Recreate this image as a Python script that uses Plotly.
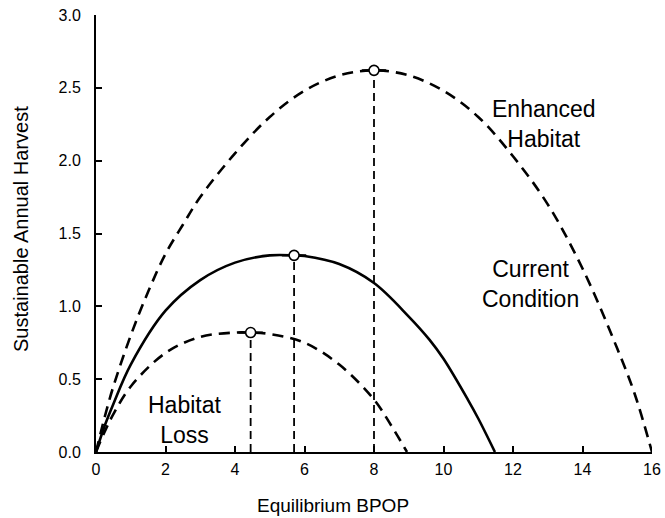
import plotly.graph_objects as go

# Enhanced Habitat curve
enh_x = [0, 0.25, 0.5, 1, 1.5, 2, 2.5, 3, 4, 5, 6, 7, 8, 9, 10, 11, 12, 13, 14, 15, 15.5, 16]
enh_y = [0, 0.24, 0.45, 0.80, 1.10, 1.36, 1.56, 1.75, 2.05, 2.30, 2.48, 2.585, 2.62, 2.585, 2.48, 2.30, 2.03, 1.70, 1.26, 0.71, 0.40, 0]
# Current Condition curve
cur_x = [0, 0.25, 0.5, 1, 2, 3, 4, 5, 5.7, 6, 7, 8, 9, 9.6, 10, 10.7, 11, 11.48]
cur_y = [0, 0.18, 0.33, 0.6, 0.97, 1.18, 1.30, 1.35, 1.35, 1.345, 1.29, 1.16, 0.93, 0.77, 0.64, 0.36, 0.23, 0]
# Habitat Loss curve
loss_x = [0, 0.25, 0.5, 1, 2, 3, 4, 4.45, 5, 6, 7, 8, 8.5, 8.95]
loss_y = [0, 0.14, 0.26, 0.45, 0.68, 0.79, 0.82, 0.82, 0.81, 0.75, 0.60, 0.36, 0.18, 0]

# Peak points (maximum sustainable yield)
peak_x = [8.0, 5.7, 4.45]
peak_y = [2.62, 1.35, 0.82]

labels = ["Enhanced<br>Habitat", "Current<br>Condition", "Habitat<br>Loss"]
label_x = [12.9, 12.49, 2.56]
label_y = [2.25, 1.15, 0.22]

x_ticks = [0, 2, 4, 6, 8, 10, 12, 14, 16]
y_ticks = [0.0, 0.5, 1.0, 1.5, 2.0, 2.5, 3.0]

FONT = "Liberation Sans, Arial, sans-serif"

fig = go.Figure()

for px, py in zip(peak_x, peak_y):
    fig.add_trace(go.Scatter(x=[px, px], y=[0, py], mode="lines",
                             line=dict(color="black", width=1.8, dash="8px,5px"),
                             showlegend=False, hoverinfo="skip"))

fig.add_trace(go.Scatter(x=enh_x, y=enh_y, mode="lines", line_shape="spline",
                         line=dict(color="black", width=2.6, dash="11px,7px"),
                         showlegend=False))
fig.add_trace(go.Scatter(x=cur_x, y=cur_y, mode="lines", line_shape="spline",
                         line=dict(color="black", width=2.6),
                         showlegend=False))
fig.add_trace(go.Scatter(x=loss_x, y=loss_y, mode="lines", line_shape="spline",
                         line=dict(color="black", width=2.6, dash="11px,7px"),
                         showlegend=False))

for px, py in zip(peak_x, peak_y):
    fig.add_trace(go.Scatter(x=[px - 0.35, px + 0.35], y=[py, py], mode="lines",
                             line=dict(color="black", width=2.2),
                             showlegend=False, hoverinfo="skip"))

fig.add_trace(go.Scatter(x=peak_x, y=peak_y, mode="markers",
                         marker=dict(symbol="circle", size=10, color="white",
                                     line=dict(color="black", width=1.6)),
                         showlegend=False))

for t, lx, ly in zip(labels, label_x, label_y):
    fig.add_annotation(x=lx, y=ly, text=t, showarrow=False,
                       font=dict(family=FONT, size=23, color="black"),
                       align="center", xanchor="center", yanchor="middle")

# axis titles as paper-anchored annotations
fig.add_annotation(xref="paper", yref="paper", x=(333 - 96) / 556, y=(452 - 505) / 437,
                   text="Equilibrium BPOP", showarrow=False,
                   font=dict(family=FONT, size=19, color="black"),
                   xanchor="center", yanchor="middle")
fig.add_annotation(xref="paper", yref="paper", x=(21 - 96) / 556, y=(452 - 229) / 437,
                   text="Sustainable Annual Harvest", showarrow=False, textangle=-90,
                   font=dict(family=FONT, size=20, color="black"),
                   xanchor="center", yanchor="middle")

fig.update_layout(
    template="none",
    width=665, height=518,
    margin=dict(l=96, r=13, t=15, b=66),
    paper_bgcolor="white", plot_bgcolor="white",
    font=dict(family=FONT, color="black"),
)
fig.update_xaxes(range=[0, 16], tickvals=x_ticks, ticktext=[str(v) for v in x_ticks],
                 automargin=False,
                 showline=True, linecolor="black", linewidth=2, mirror=False,
                 ticks="inside", ticklen=6, tickwidth=1.5, tickcolor="black",
                 showgrid=False, zeroline=False, ticklabelstandoff=2,
                 tickfont=dict(family=FONT, size=16))
fig.update_yaxes(range=[0, 3.0], tickvals=y_ticks, ticktext=[f"{v:.1f}" for v in y_ticks],
                 automargin=False,
                 showline=True, linecolor="black", linewidth=2, mirror=False,
                 ticks="inside", ticklen=6, tickwidth=1.5, tickcolor="black",
                 showgrid=False, zeroline=False, ticklabelstandoff=10,
                 tickfont=dict(family=FONT, size=16))

fig.write_html("out.html")
